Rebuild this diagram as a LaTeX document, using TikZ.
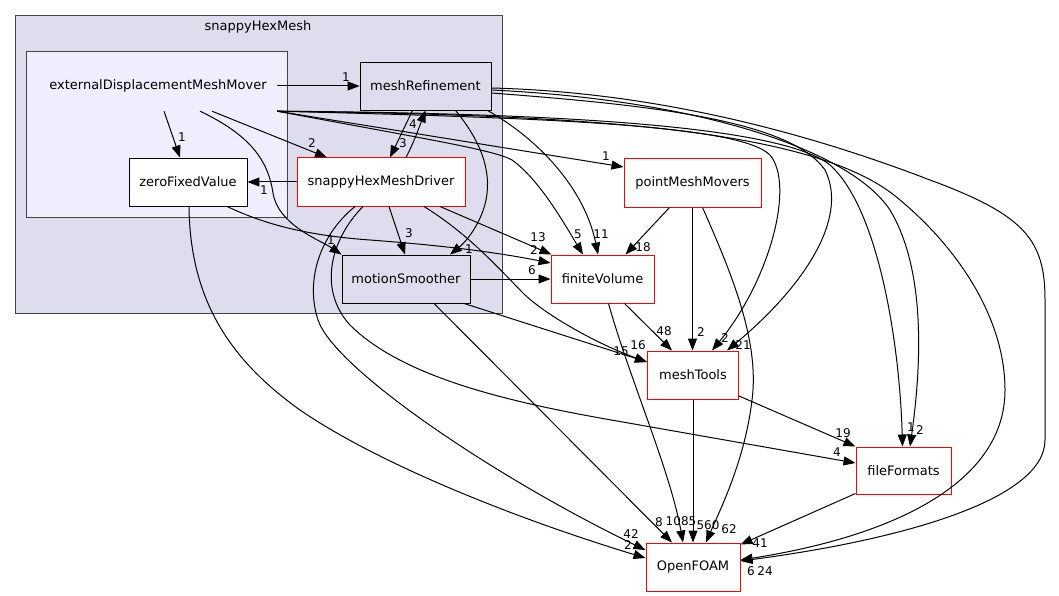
\documentclass[tikz,border=0pt]{standalone}
\usepackage{fontspec}
\setmainfont{DejaVu Sans}
\usetikzlibrary{arrows.meta,calc}
\definecolor{clfill}{HTML}{DDDDEE}
\definecolor{inner}{HTML}{EEEEFF}
\definecolor{clborder}{HTML}{444444}
\begin{document}
\begin{tikzpicture}[x=1pt,y=-1pt,
  txt/.style={font=\fontsize{13}{15}\selectfont},
  box/.style={txt, draw=black, line width=0.9pt, fill=white, minimum height=48pt, inner sep=0pt},
  redbox/.style={box, draw=red, line width=1pt},
  graybox/.style={box, fill=clfill},
  cluster/.style={draw=clborder, line width=1pt, inner sep=0pt},
  edge/.style={draw=black, line width=1pt, -{Triangle[length=12pt,width=9pt]}},
  elabel/.style={font=\fontsize{12}{13}\selectfont, inner sep=0pt}]
\useasboundingbox (0,0) rectangle (1059,596);
% clusters
\node[cluster, fill=clfill, minimum width=487pt, minimum height=297pt] (shm) at (258.5,164.5) {};
\node[txt, inner sep=0pt] (shmtitle) at (258,27) {snappyHexMesh};
\node[cluster, fill=inner, minimum width=261pt, minimum height=165pt] (edmmcl) at (156.5,134.5) {};
\node[txt, inner sep=0pt, minimum width=238pt, minimum height=50pt] (edmm) at (158,86) {externalDisplacementMeshMover};
% nodes
\node[graybox, minimum width=131pt] (mr) at (425.5,86) {meshRefinement};
\node[box, minimum width=118pt] (zfv) at (188,182) {zeroFixedValue};
\node[redbox, minimum width=168pt] (shmd) at (381,182) {snappyHexMeshDriver};
\node[graybox, minimum width=128pt] (ms) at (406,279) {motionSmoother};
\node[redbox, minimum width=137pt] (pmm) at (692.5,183) {pointMeshMovers};
\node[redbox, minimum width=103pt] (fv) at (602.5,279) {finiteVolume};
\node[redbox, minimum width=91pt] (mt) at (693,375) {meshTools};
\node[redbox, minimum width=95pt, minimum height=47pt] (ff) at (903.5,470.5) {fileFormats};
\node[redbox, minimum width=94pt] (of) at (693,567) {OpenFOAM};
% edges from externalDisplacementMeshMover
\draw[edge] (edmm.east) -- (mr.west);
\draw[edge] ($(edmm.south)+(6,0)$) -- ($(zfv.north)+(-8,0)$);
\draw[edge] ($(edmm.south)+(54,0)$) -- ($(shmd.north)+(-54,0)$);
\draw[edge] ($(edmm.south)+(42,0)$) .. controls (250,135) and (268,160) .. (273,193) .. controls (278,225) and (320,240) .. (ms.north west);
\draw[edge] (edmm.south east) .. controls (420,138) and (495,150) .. (512,160) .. controls (540,180) and (565,225) .. ($(fv.north)+(-19.5,0)$);
\draw[edge] (edmm.south east) -- ($(pmm.west)+(0,-16)$);
\draw[edge] (edmm.south east) .. controls (550,118) and (740,125) .. (770,155) .. controls (795,185) and (770,280) .. ($(mt.north)+(19,0)$);
\draw[edge] (edmm.south east) .. controls (550,113) and (780,125) .. (830,165) .. controls (880,210) and (900,350) .. ($(ff.north)+(-1,0)$);
\draw[edge] (edmm.south east) .. controls (600,115) and (820,130) .. (900,200) .. controls (960,250) and (1005,320) .. (1005,390) .. controls (1005,480) and (900,535) .. ($(of.east)+(0,-7)$);
% edges from meshRefinement
\draw[edge] ($(mr.south)+(-13,0)$) -- ($(shmd.north)+(9,0)$);
\draw[edge] ($(mr.south)+(30,0)$) .. controls (480,140) and (492,170) .. (486,200) .. controls (480,228) and (462,245) .. ($(ms.north)+(44,0)$);
\draw[edge] ($(mr.south)+(62,0)$) .. controls (540,140) and (585,190) .. ($(fv.north)+(-4.5,0)$);
\draw[edge] ($(mr.east)+(0,7)$) .. controls (650,105) and (790,120) .. (825,170) .. controls (850,220) and (800,290) .. ($(mt.north)+(34,0)$);
\draw[edge] ($(mr.east)+(0,4)$) .. controls (700,100) and (850,150) .. (890,210) .. controls (920,260) and (925,340) .. ($(ff.north)+(6.5,0)$);
\draw[edge] ($(mr.east)+(0,2)$) .. controls (650,92) and (800,130) .. (930,180) .. controls (1025,215) and (1045,240) .. (1045,300) -- (1045,440) .. controls (1045,500) and (900,540) .. ($(of.east)+(0,-6)$);
% edges from snappyHexMeshDriver
\draw[edge] ($(shmd.north)+(25,0)$) .. controls (415,140) and (420,125) .. (mr.south);
\draw[edge] (shmd.west) -- (zfv.east);
\draw[edge] ($(shmd.south)+(8,0)$) -- ($(ms.north)+(-1,0)$);
\draw[edge] ($(shmd.south)+(59,0)$) -- ($(fv.north west)+(1,0)$);
\draw[edge] ($(shmd.south)+(43,0)$) .. controls (470,235) and (500,270) .. (525,295) .. controls (550,318) and (600,345) .. ($(mt.west)+(0,-13)$);
\draw[edge] ($(shmd.south)+(-26,0)$) .. controls (320,235) and (305,280) .. (318,320) .. controls (335,370) and (500,480) .. ($(of.west)+(0,-17)$);
\draw[edge] ($(shmd.south)+(-18,0)$) .. controls (330,240) and (318,290) .. (350,325) .. controls (400,375) and (500,400) .. (600,418) -- ($(ff.west)+(0,-7.5)$);
% edges from zeroFixedValue
\draw[edge] ($(zfv.south)+(39,0)$) .. controls (260,222) and (300,235) .. (370,240) .. controls (450,246) and (500,253) .. ($(fv.west)+(0,-16)$);
\draw[edge] ($(zfv.south)+(1,0)$) .. controls (190,300) and (230,360) .. (300,410) .. controls (380,465) and (520,520) .. ($(of.west)+(0,-9)$);
% edges from motionSmoother
\draw[edge] (ms.east) -- (fv.west);
\draw[edge] ($(ms.south)+(58,0)$) -- ($(mt.west)+(0,-13)$);
\draw[edge] ($(ms.south)+(28,0)$) -- ($(of.north)+(-21,0)$);
% edges from pointMeshMovers
\draw[edge] ($(pmm.south)+(-23,0)$) -- ($(fv.north)+(23,0)$);
\draw[edge] (pmm.south) -- (pmm.south |- mt.north);
\draw[edge] ($(pmm.south)+(10,0)$) .. controls (730,270) and (760,340) .. (752,400) .. controls (745,460) and (720,510) .. ($(of.north)+(13,0)$);
% edges from finiteVolume
\draw[edge] ($(fv.south)+(22,0)$) -- ($(mt.north)+(-21,0)$);
\draw[edge] ($(fv.south)+(6,0)$) .. controls (630,380) and (670,470) .. ($(of.north)+(-10,0)$);
% edges from meshTools
\draw[edge] (mt.south) -- (of.north);
\draw[edge] ($(mt.east)+(0,21)$) -- (ff.north west);
% edges from fileFormats
\draw[edge] ($(ff.south west)+(0,-1)$) -- ($(of.north east)+(0,2)$);
% edge labels
\node[elabel] (l01) at (346,77) {1};
\node[elabel] (l02) at (182,137) {1};
\node[elabel] (l03) at (312,143) {2};
\node[elabel] (l04) at (331,240) {1};
\node[elabel] (l05) at (578,234) {5};
\node[elabel] (l06) at (606,156) {1};
\node[elabel] (l07) at (725,338) {2};
\node[elabel] (l08) at (911,427) {1};
\node[elabel] (l09) at (751,571) {6};
\node[elabel] (l10) at (403,143) {3};
\node[elabel] (l11) at (413,124) {4};
\node[elabel] (l12) at (469,249) {1};
\node[elabel] (l13) at (601,234) {11};
\node[elabel] (l14) at (743,345) {21};
\node[elabel] (l15) at (920,430) {2};
\node[elabel] (l16) at (765,571) {24};
\node[elabel] (l17) at (264,190) {1};
\node[elabel] (l18) at (409,233) {3};
\node[elabel] (l19) at (538,237) {13};
\node[elabel] (l20) at (638,345) {16};
\node[elabel] (l21) at (631,534) {42};
\node[elabel] (l22) at (837,452) {4};
\node[elabel] (l23) at (534,250) {2};
\node[elabel] (l24) at (628,545) {2};
\node[elabel] (l25) at (532,270) {6};
\node[elabel] (l26) at (621,351) {15};
\node[elabel] (l27) at (659,522) {8};
\node[elabel] (l28) at (643,247) {18};
\node[elabel] (l29) at (701,332) {2};
\node[elabel] (l30) at (729,529) {62};
\node[elabel] (l31) at (664,331) {48};
\node[elabel] (l32) at (681,521) {1085};
\node[elabel] (l33) at (708,525) {560};
\node[elabel] (l34) at (843,433) {19};
\node[elabel] (l35) at (760,543) {41};
\end{tikzpicture}
\end{document}
